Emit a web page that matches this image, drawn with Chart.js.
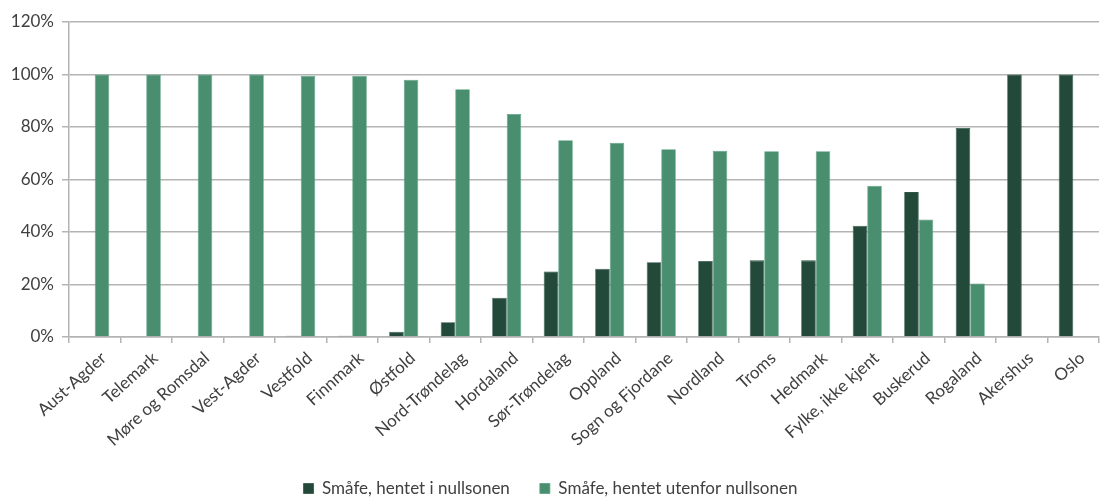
<!DOCTYPE html>
<html>
<head>
<meta charset="utf-8">
<script src="https://cdn.jsdelivr.net/npm/chart.js@4/dist/chart.umd.min.js"></script>
<style>
  html, body { margin: 0; padding: 0; background: #ffffff; }
  #wrap { width: 1102px; height: 497px; }
</style>
</head>
<body>
<div id="wrap"><canvas id="c" width="1102" height="497"></canvas></div>
<script>
// Counties
const categories = [
  "Aust-Agder", "Telemark", "Møre og Romsdal", "Vest-Agder", "Vestfold",
  "Finnmark", "Østfold", "Nord-Trøndelag", "Hordaland", "Sør-Trøndelag",
  "Oppland", "Sogn og Fjordane", "Nordland", "Troms", "Hedmark",
  "Fylke, ikke kjent", "Buskerud", "Rogaland", "Akershus", "Oslo"
];

// Share (%) of small fish landed inside the zero zone
const insideZone = [
  0, 0, 0, 0, 0.5,
  0.5, 2, 5.6, 15, 25,
  26, 28.5, 29, 29.2, 29.2,
  42.4, 55.2, 79.6, 100, 100
];

// Share (%) of small fish landed outside the zero zone
const outsideZone = [
  100, 100, 100, 100, 99.5,
  99.5, 98, 94.4, 85, 75,
  74, 71.5, 71, 70.8, 70.8,
  57.6, 44.8, 20.4, 0, 0
];

const seriesNames = ["Småfe, hentet i nullsonen", "Småfe, hentet utenfor nullsonen"];
const yTicks = [0, 20, 40, 60, 80, 100, 120];

const FONT = "Lato, 'Open Sans', sans-serif";
const FONT_SIZE = 17;
const TEXT = "#404040";
const GRID = "#b4b4b4";

new Chart(document.getElementById("c"), {
  type: "bar",
  data: {
    labels: categories,
    datasets: [
      {
        label: seriesNames[0],
        data: insideZone,
        backgroundColor: "#23493a",
        borderColor: "#2e5646",
        borderWidth: 0.8
      },
      {
        label: seriesNames[1],
        data: outsideZone,
        backgroundColor: "#488e6f",
        borderColor: "#5aa080",
        borderWidth: 0.8
      }
    ]
  },
  options: {
    responsive: false,
    animation: false,
    layout: { padding: { top: 22, right: 3, left: 2, bottom: -10 } },
    datasets: {
      bar: { categoryPercentage: 0.565, barPercentage: 1.0 }
    },
    scales: {
      x: {
        afterFit: (axis) => { axis.height = 113; },
        grid: {
          offset: true,
          drawOnChartArea: false,
          drawTicks: true,
          tickLength: 6,
          color: GRID,
          lineWidth: 1.5
        },
        border: { display: true, color: GRID, width: 1.5 },
        ticks: {
          minRotation: 42,
          maxRotation: 42,
          autoSkip: false,
          color: TEXT,
          padding: 5,
          labelOffset: 9,
          font: { family: FONT, size: FONT_SIZE }
        }
      },
      y: {
        min: 0,
        max: 120,
        afterBuildTicks: (axis) => { axis.ticks = yTicks.map(v => ({ value: v })); },
        afterFit: (axis) => { axis.width = 67; },
        grid: {
          color: GRID,
          lineWidth: 1.5,
          drawTicks: true,
          tickLength: 7
        },
        border: { display: true, color: GRID, width: 1.5 },
        ticks: {
          color: TEXT,
          padding: 8,
          font: { family: FONT, size: FONT_SIZE },
          callback: (v) => v + "%"
        }
      }
    },
    plugins: {
      legend: {
        position: "bottom",
        labels: {
          color: TEXT,
          boxWidth: 10,
          boxHeight: 10,
          padding: 30,
          font: { family: FONT, size: FONT_SIZE }
        }
      },
      tooltip: { enabled: false }
    }
  }
});
</script>
</body>
</html>
